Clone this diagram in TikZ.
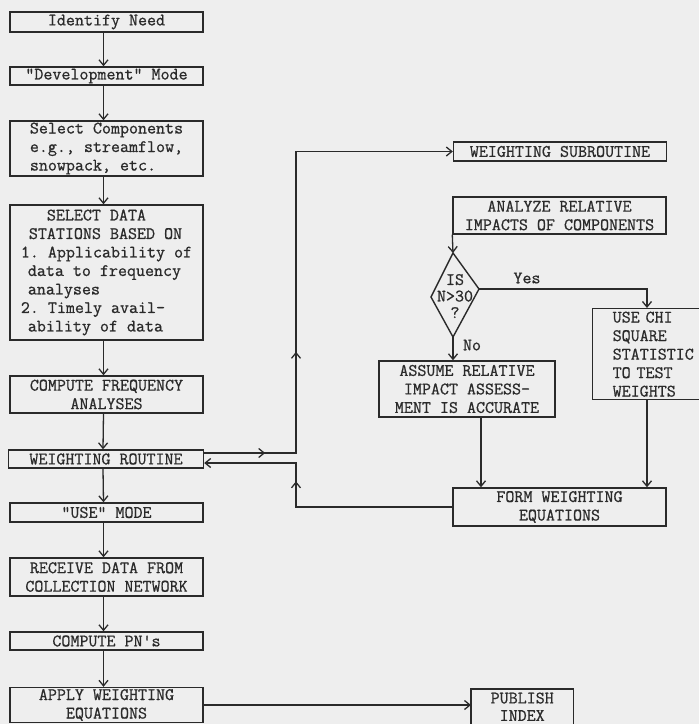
\documentclass[tikz,border=0pt]{standalone}
\usepackage{fontspec}
\setmonofont{Latin Modern Mono}[FakeBold=0.8]
\usetikzlibrary{arrows.meta,decorations.markings}
\definecolor{ink}{HTML}{2A2A2A}
\definecolor{paper}{HTML}{EEEEEE}
\begin{document}
\begin{tikzpicture}[x=1pt,y=-1pt,
  txtfont/.style={font=\ttfamily\fontsize{17.5}{18.5}\selectfont, text=ink},
  box/.style={txtfont, draw=ink, line width=1.4pt, inner sep=0pt, align=center},
  lbox/.style={box, minimum width=193pt},
  tipshape/.tip={Straight Barb[length=5.5pt,width=9pt,line width=1.3pt]},
  arr/.style={draw=ink, line width=1.3pt, -tipshape},
  lbl/.style={txtfont, inner sep=0pt}
]
\fill[paper] (0,0) rectangle (699,724);
\useasboundingbox (0,0) rectangle (699,724);
\clip (0,0) rectangle (699,724);

% left column
\node[lbox, minimum height=20pt] (n1) at (106.5,22) {Identify Need};
\node[lbox, minimum height=18pt] (n2) at (106.5,76) {"Development" Mode};
\node[lbox, minimum height=55pt, align=left] (n3) at (106.5,148.5)
  {Select Components\\e.g., streamflow,\\snowpack, etc.};
\node[lbox, minimum height=135pt, align=left] (n4) at (106.5,272.5)
  {\hspace*{26pt}SELECT DATA\\\hspace*{8pt}STATIONS BASED ON\\1. Applicability of\\\hspace*{7pt}data to frequency\\\hspace*{7pt}analyses\\2. Timely avail-\\\hspace*{7pt}ability of data};
\node[lbox, minimum height=37pt] (n5) at (106.5,394.5) {COMPUTE FREQUENCY\\ANALYSES};
\node[lbox, minimum height=18pt, minimum width=195pt] (wr) at (106,459) {WEIGHTING ROUTINE};
\node[lbox, minimum height=19pt] (n7) at (106.5,512.5) {"USE" MODE};
\node[lbox, minimum height=38pt] (n8) at (106.5,577) {RECEIVE DATA FROM\\COLLECTION NETWORK};
\node[lbox, minimum height=18pt] (n9) at (106.5,641) {COMPUTE PN's};
\node[lbox, minimum height=35pt] (apply) at (106.5,705) {APPLY WEIGHTING\\EQUATIONS};

\foreach \a/\b in {n1/n2,n2/n3,n3/n4,n4/n5,n5/wr,wr/n7,n7/n8,n8/n9,n9/apply}
  \draw[arr] ([xshift=-3pt]\a.south) -- ([xshift=-3pt]\b.north);

% right side
\node[box, minimum width=213pt, minimum height=19pt] (ws) at (560,151.5) {WEIGHTING SUBROUTINE};
\node[box, minimum width=213pt, minimum height=37pt] (analyze) at (559.5,215.5) {ANALYZE RELATIVE\\IMPACTS OF COMPONENTS};

\coordinate (dtop) at (453,253);
\coordinate (dleft) at (431,297);
\coordinate (dright) at (479,289);
\coordinate (dbot) at (453,337);
\draw[draw=ink, line width=1.4pt] (dtop) -- (dright) -- (dbot) -- (dleft) -- cycle;
\node[lbl, align=center, font=\ttfamily\fontsize{17.5}{16.5}\selectfont] (dia) at (455,296) {IS\\N>30\\?};

\node[box, anchor=north west, minimum height=91pt, text width=84pt, inner xsep=20pt, align=left] (chi) at (592,308)
  {USE CHI\\SQUARE\\STATISTIC\\TO TEST\\WEIGHTS};
\node[box, minimum width=176pt, minimum height=56pt] (assume) at (467,389)
  {ASSUME RELATIVE\\IMPACT ASSESS-\\MENT IS ACCURATE};
\node[box, minimum width=213pt, minimum height=38pt] (form) at (559.5,507) {FORM WEIGHTING\\EQUATIONS};
\node[box, draw=none, anchor=north west, minimum width=101pt, minimum height=34pt, font=\ttfamily\fontsize{17.5}{17.5}\selectfont] (publish) at (471,689)
  {PUBLISH\\INDEX};
\draw[draw=ink, line width=1.4pt] ([yshift=-8pt]publish.south west) -- (publish.north west)
  -- (publish.north east) -- ([yshift=-8pt]publish.south east);

\node[lbl] (yes) at (527,278) {Yes};
\node[lbl] (no) at (472,345) {No};

\draw[arr] (analyze.south west) -- (dtop);
\coordinate (chitop) at ([xshift=55pt]chi.north west);
\coordinate (chibot) at ([xshift=55pt]chi.south west);
\draw[arr] (dright) -| (chitop);
\draw[arr] (dbot) -- (dbot |- assume.north);
\coordinate (abot) at ([xshift=14pt]assume.south);
\draw[arr] (abot) -- (abot |- form.north);
\draw[arr] (chibot) -- (chibot |- form.north);

% loop between weighting routine and subroutine
\coordinate (busx) at (296,0);
\coordinate (wrout) at ([yshift=6pt]wr.east);
\coordinate (wrin) at ([yshift=-4pt]wr.east);
\draw[arr, postaction={decorate}, decoration={markings,
    mark=at position 61pt with {\arrow{tipshape}},
    mark=at position 193pt with {\arrow{tipshape}}}]
  (wrout) -| (busx |- ws.west) -- (ws.west);
\draw[arr, postaction={decorate}, decoration={markings,
    mark=at position 182pt with {\arrow{tipshape}}}]
  (form.west) -| (busx |- wrin) -- (wrin);

\draw[arr] (apply.east) -- (publish.west |- apply.east);
\end{tikzpicture}
\end{document}
